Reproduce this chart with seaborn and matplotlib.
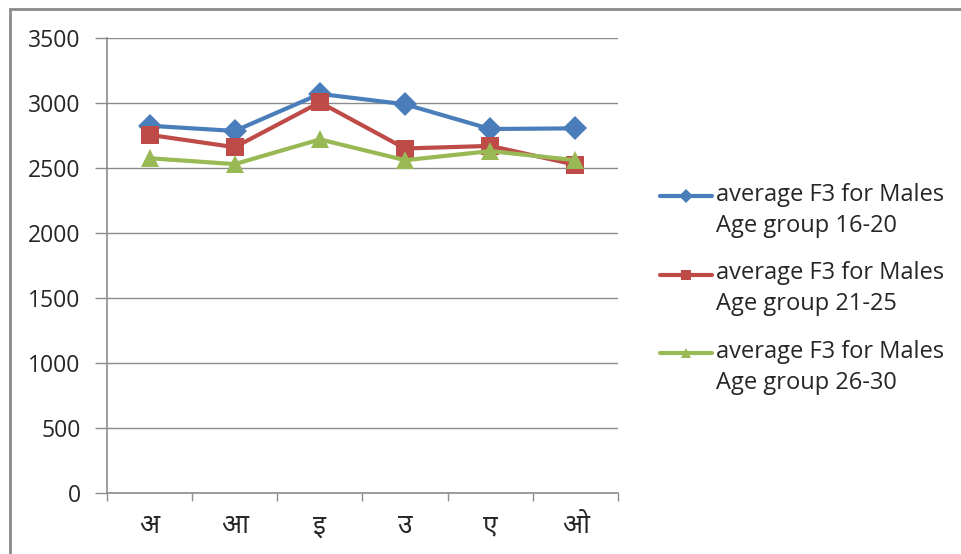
import matplotlib
matplotlib.use("Agg")
import matplotlib.pyplot as plt
from matplotlib import font_manager
from matplotlib.lines import Line2D
from matplotlib.legend_handler import HandlerLine2D
from matplotlib.patches import Rectangle
import numpy as np
import pandas as pd
import seaborn as sns

# Vowel categories on the x axis
vowels = ["अ", "आ", "इ", "उ", "ए", "ओ"]

# Average F3 (Hz) per age group
f3_16_20 = [2825, 2785, 3070, 2990, 2800, 2805]
f3_21_25 = [2755, 2660, 3005, 2650, 2670, 2525]
f3_26_30 = [2575, 2530, 2720, 2560, 2630, 2560]

series_names = [
    "average F3 for Males\nAge group 16-20",
    "average F3 for Males\nAge group 21-25",
    "average F3 for Males\nAge group 26-30",
]
y_ticks = [0, 500, 1000, 1500, 2000, 2500, 3000, 3500]


def first_family(candidates):
    names = {f.name for f in font_manager.fontManager.ttflist}
    for c in candidates:
        if c in names:
            return c
    return "DejaVu Sans"


text_family = first_family(["Open Sans", "Lato", "DejaVu Sans"])
deva_family = first_family(["Noto Sans Devanagari", "Noto Sans Devanagari UI",
                            "Mukta", "Hind", "Martel Sans", "Khula"])


class TopLineHandler(HandlerLine2D):
    """Legend handle aligned with the first line of a two-line label."""

    def __init__(self, shift, **kw):
        super().__init__(**kw)
        self.shift = shift

    def create_artists(self, legend, orig_handle, xdescent, ydescent,
                       width, height, fontsize, trans):
        artists = super().create_artists(legend, orig_handle, xdescent, ydescent,
                                         width, height, fontsize, trans)
        for a in artists:
            a.set_ydata(np.asarray(a.get_ydata(), dtype=float) + self.shift)
        return artists


df = pd.DataFrame({
    "vowel": vowels * 3,
    "F3": f3_16_20 + f3_21_25 + f3_26_30,
    "group": np.repeat(series_names, len(vowels)),
})

sns.set_theme(style="white")
plt.rcParams["font.family"] = [text_family, "DejaVu Sans"]

fig = plt.figure(figsize=(9.61, 5.54), dpi=100)
ax = fig.add_axes([107 / 961, 1 - 493 / 554, (618 - 107) / 961, (493 - 38) / 554])

colors = ["#4A7EBB", "#BE4B48", "#98B954"]
markers = ["D", "s", "^"]
sns.lineplot(data=df, x="vowel", y="F3", hue="group", style="group",
             palette=colors, markers=markers, dashes=False, linewidth=3.0,
             markersize=12.5, markeredgewidth=0, ax=ax, sort=False)

grid_c = "#8C8C8C"
text_c = "#262626"
ax.set_ylim(0, 3500)
ax.set_yticks(y_ticks)
ax.set_xlim(-0.5, len(vowels) - 0.5)
ax.set_xticks(range(len(vowels)))
ax.set_xticklabels(vowels, family=deva_family, fontsize=19)
ax.set_xticks(np.arange(-0.5, len(vowels), 1.0), minor=True)
ax.yaxis.grid(True, color=grid_c, linewidth=1.0)
ax.set_axisbelow(True)
for side in ["top", "right"]:
    ax.spines[side].set_visible(False)
for side in ["left", "bottom"]:
    ax.spines[side].set_color(grid_c)
    ax.spines[side].set_linewidth(1.2)
ax.tick_params(axis="y", which="major", length=9, color=grid_c, width=1.0,
               labelsize=16.5, labelcolor=text_c, pad=10, left=True)
ax.tick_params(axis="x", which="major", length=0, pad=14, labelcolor=text_c)
ax.tick_params(axis="x", which="minor", length=6, color=grid_c, width=1.0,
               bottom=True, direction="out")
ax.set_xlabel("")
ax.set_ylabel("")

handles, labels = ax.get_legend_handles_labels()
legend_fs = 17
ax.legend(handles, labels, loc="upper left",
          bbox_to_anchor=(639 / 961, 1 - 162 / 554),
          bbox_transform=fig.transFigure, frameon=False, fontsize=legend_fs,
          handlelength=2.2, handletextpad=0.17, labelspacing=0.98,
          labelcolor=text_c, markerscale=0.6,
          handler_map={Line2D: TopLineHandler(shift=0.64 * legend_fs)})
for t in ax.get_legend().get_texts():
    t.set_linespacing(1.39)

fig.patches.append(Rectangle((10 / 961, -0.1), 1.2, 1 - 9 / 554 + 0.1,
                             transform=fig.transFigure, fill=False,
                             edgecolor="#8A8A8A", linewidth=2.0))

fig.savefig("out.png", dpi=100)
